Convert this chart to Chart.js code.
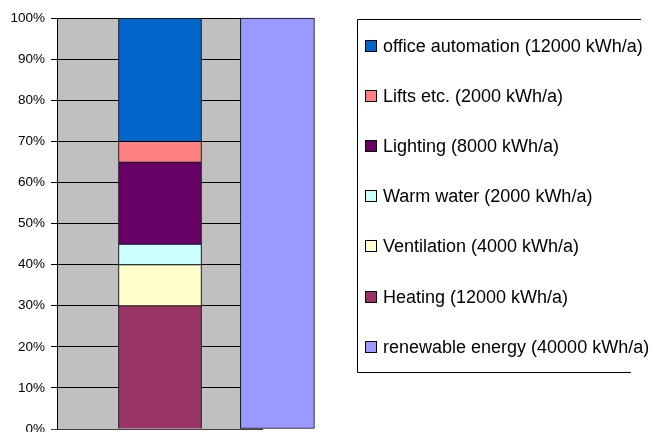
<!DOCTYPE html>
<html>
<head>
<meta charset="utf-8">
<script src="https://cdn.jsdelivr.net/npm/chart.js@4/dist/chart.umd.min.js"></script>
<style>
html, body { margin: 0; padding: 0; background: #ffffff; }
canvas { display: block; }
</style>
</head>
<body>
<canvas id="c" width="654" height="432"></canvas>
<script>
// ---- data ----
const categories = ['Consumption', 'Renewable energy'];
const consumptionNames = ['Heating', 'Ventilation', 'Warm water', 'Lighting', 'Lifts etc.', 'office automation'];
const consumptionKWh = [12000, 4000, 2000, 8000, 2000, 12000];
const renewableName = 'renewable energy';
const renewableKWh = [40000];
const yTickLabels = ['0%', '10%', '20%', '30%', '40%', '50%', '60%', '70%', '80%', '90%', '100%'];

// ---- styles / layout ----
const seriesColors = ['#993366', '#FFFFCC', '#CCFFFF', '#660066', '#FF8080', '#0066CC'];
const renewableColor = '#9999FF';
const categoryPositions = [0.5, 1.07];
const FONT = '"Liberation Sans", Arial, Helvetica, sans-serif';

const consumptionTotal = consumptionKWh.reduce((a, b) => a + b, 0);
const renewableTotal = renewableKWh.reduce((a, b) => a + b, 0);

const datasets = consumptionNames.map((name, i) => ({
  label: name + ' (' + consumptionKWh[i] + ' kWh/a)',
  data: [{ x: categoryPositions[0], y: consumptionKWh[i] / consumptionTotal * 100 }],
  backgroundColor: seriesColors[i],
  borderColor: '#000000',
  borderWidth: 1,
  borderSkipped: 'start',
  barThickness: 83
}));
datasets.push({
  label: renewableName + ' (' + renewableKWh[0] + ' kWh/a)',
  data: [{ x: categoryPositions[1], y: renewableKWh[0] / renewableTotal * 100 }],
  backgroundColor: renewableColor,
  borderColor: '#000000',
  borderWidth: 1,
  borderSkipped: false,
  barThickness: 74,
  clip: false
});

const plotBackground = {
  id: 'plotBackground',
  beforeDraw(chart) {
    const a = chart.chartArea, ctx = chart.ctx;
    ctx.save();
    ctx.fillStyle = '#C0C0C0';
    ctx.fillRect(a.left, a.top, a.right - a.left, a.bottom - a.top);
    ctx.restore();
  }
};

const boxLegend = {
  id: 'boxLegend',
  afterDraw(chart) {
    const ctx = chart.ctx;
    ctx.save();
    ctx.strokeStyle = '#000000';
    ctx.lineWidth = 1;
    ctx.beginPath();
    ctx.moveTo(641, 19.5);
    ctx.lineTo(357.5, 19.5);
    ctx.lineTo(357.5, 372.5);
    ctx.lineTo(631, 372.5);
    ctx.stroke();
    const order = [5, 4, 3, 2, 1, 0, 6];
    ctx.font = '18px ' + FONT;
    ctx.textBaseline = 'middle';
    ctx.textAlign = 'left';
    order.forEach((di, k) => {
      const ds = chart.data.datasets[di];
      const y = Math.round(45.5 + k * 50.2);
      ctx.fillStyle = ds.backgroundColor;
      ctx.fillRect(365.5, y - 5.5, 11, 11);
      ctx.strokeStyle = '#000000';
      ctx.strokeRect(365.5, y - 5.5, 11, 11);
      ctx.fillStyle = '#000000';
      ctx.fillText(ds.label, 383, y + 1);
    });
    ctx.restore();
  }
};

new Chart(document.getElementById('c'), {
  type: 'bar',
  data: { labels: categories, datasets: datasets },
  options: {
    responsive: false,
    animation: false,
    devicePixelRatio: 1,
    layout: { padding: { left: 0, top: 18, right: 391, bottom: 3 } },
    plugins: { legend: { display: false }, tooltip: { enabled: false } },
    scales: {
      x: { type: 'linear', min: 0, max: 1, offset: false, stacked: true, display: false },
      y: {
        stacked: true,
        min: 0,
        max: 100,
        afterFit(scale) { scale.width = 57; scale.paddingTop = 0; scale.paddingBottom = 0; },
        ticks: {
          stepSize: 10,
          callback: (v, i) => yTickLabels[i],
          font: { family: FONT, size: 13.5 },
          color: '#000000',
          padding: 6
        },
        grid: {
          color: (ctx) => (ctx.tick && ctx.tick.value === 0 ? '#404040' : '#000000'),
          lineWidth: 1,
          tickLength: 6,
          drawTicks: true
        },
        border: { color: '#000000', width: 1 }
      }
    }
  },
  plugins: [plotBackground, boxLegend]
});
</script>
</body>
</html>
